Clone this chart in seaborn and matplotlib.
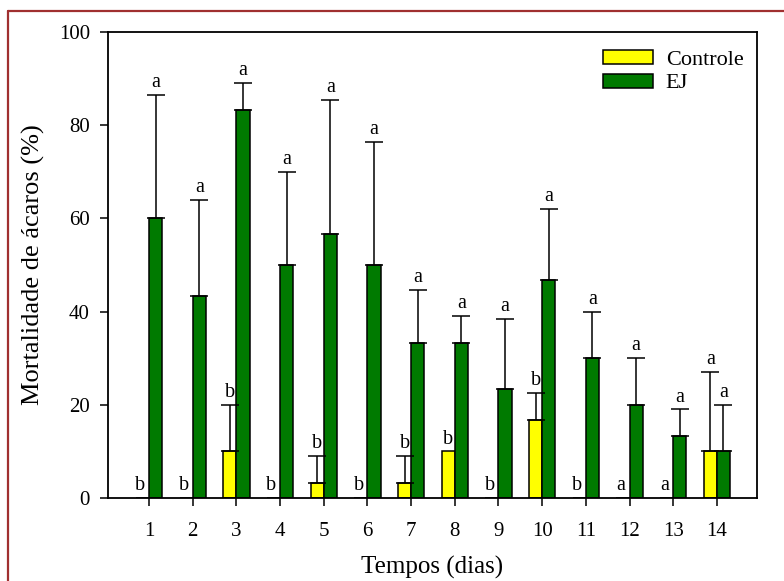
import numpy as np
import pandas as pd
import matplotlib
matplotlib.use('Agg')
import matplotlib.pyplot as plt
import seaborn as sns
from matplotlib.lines import Line2D

# dados
dias = [str(d) for d in range(1, 15)]
controle = [0, 0, 10, 0, 3.3, 0, 3.3, 10, 0, 16.7, 0, 0, 0, 10]
controle_erro = [0, 0, 10, 0, 5.7, 0, 5.7, 0, 0, 5.8, 0, 0, 0, 17]
ej = [60, 43.3, 83.3, 50, 56.7, 50, 33.3, 33.3, 23.3, 46.7, 30, 20, 13.3, 10]
ej_erro = [26.5, 20.7, 5.7, 20, 28.8, 26.5, 11.4, 5.7, 15.2, 15.3, 10, 10, 5.7, 10]
letras_controle = ['b'] * 11 + ['a', 'a', 'a']
letras_ej = ['a'] * 14

df = pd.DataFrame({
    'Dia': dias * 2,
    'Grupo': ['Controle'] * 14 + ['EJ'] * 14,
    'Mortalidade': controle + ej,
})

sns.set_style('ticks')
plt.rcParams['font.family'] = ['Liberation Serif', 'DejaVu Serif']
plt.rcParams['text.color'] = 'black'
plt.rcParams['axes.labelcolor'] = 'black'

fig = plt.figure(figsize=(7.84, 5.81), dpi=100)
ax = fig.add_axes([0.1378, 0.1429, 0.8278, 0.8020])

sns.barplot(data=df, x='Dia', y='Mortalidade', hue='Grupo',
            palette={'Controle': '#ffff00', 'EJ': '#007a00'}, saturation=1,
            errorbar=None, width=0.6, edgecolor='black', linewidth=1.1,
            ax=ax)

# barras de erro (só para cima) e letras
pos = np.arange(14)
meio = 0.15
for medias, erros, letras, desloc in [(controle, controle_erro, letras_controle, -meio),
                                      (ej, ej_erro, letras_ej, meio)]:
    medias = np.array(medias)
    erros = np.array(erros)
    tem = erros > 0
    ax.errorbar(pos[tem] + desloc, medias[tem],
                yerr=[np.zeros(tem.sum()), erros[tem]],
                fmt='none', ecolor='black', elinewidth=1.1, capsize=6.5, capthick=1.1)
    for i in range(14):
        topo = medias[i] + erros[i]
        ax.text(pos[i] + desloc - (0.05 if topo == 0 else 0), topo + 0.6, letras[i],
                ha='center', va='bottom', fontsize=14.5, color='black')

ax.set_ylim(0, 100)
ax.set_xlim(-0.94, 13.92)
ax.set_yticks([0, 20, 40, 60, 80, 100])
ax.set_xticks(pos)
ax.set_xticklabels(dias)
ax.tick_params(axis='both', labelsize=15, length=6, width=1.1, direction='out',
               colors='black', labelcolor='black')
ax.tick_params(axis='x', pad=11)
ax.tick_params(axis='y', pad=7)
for s in ax.spines.values():
    s.set_visible(True)
    s.set_linewidth(1.3)
    s.set_color('black')

ax.set_xlabel('Tempos (dias)', fontsize=18, color='black')
ax.set_ylabel('Mortalidade de ácaros (%)', fontsize=19, color='black')
ax.xaxis.set_label_coords(0.5, -0.125)
ax.yaxis.set_label_coords(-0.097, 0.5)

leg = ax.legend(loc='upper right', bbox_to_anchor=(1.003, 0.994), frameon=False,
                fontsize=16, handlelength=2.25, handleheight=0.6, labelspacing=0.15,
                handletextpad=0.55, borderaxespad=0.3)
for h in leg.legend_handles:
    h.set_edgecolor('black')
    h.set_linewidth(1.1)
for t in leg.get_texts():
    t.set_color('black')

# moldura vermelha escura
fig.add_artist(Line2D([8 / 784, 8 / 784], [0, 1 - 11 / 581], transform=fig.transFigure,
                      color='#a03030', linewidth=1.6))
fig.add_artist(Line2D([8 / 784, 1], [1 - 11 / 581, 1 - 11 / 581], transform=fig.transFigure,
                      color='#a03030', linewidth=1.6))

fig.savefig('out.png', dpi=100)
